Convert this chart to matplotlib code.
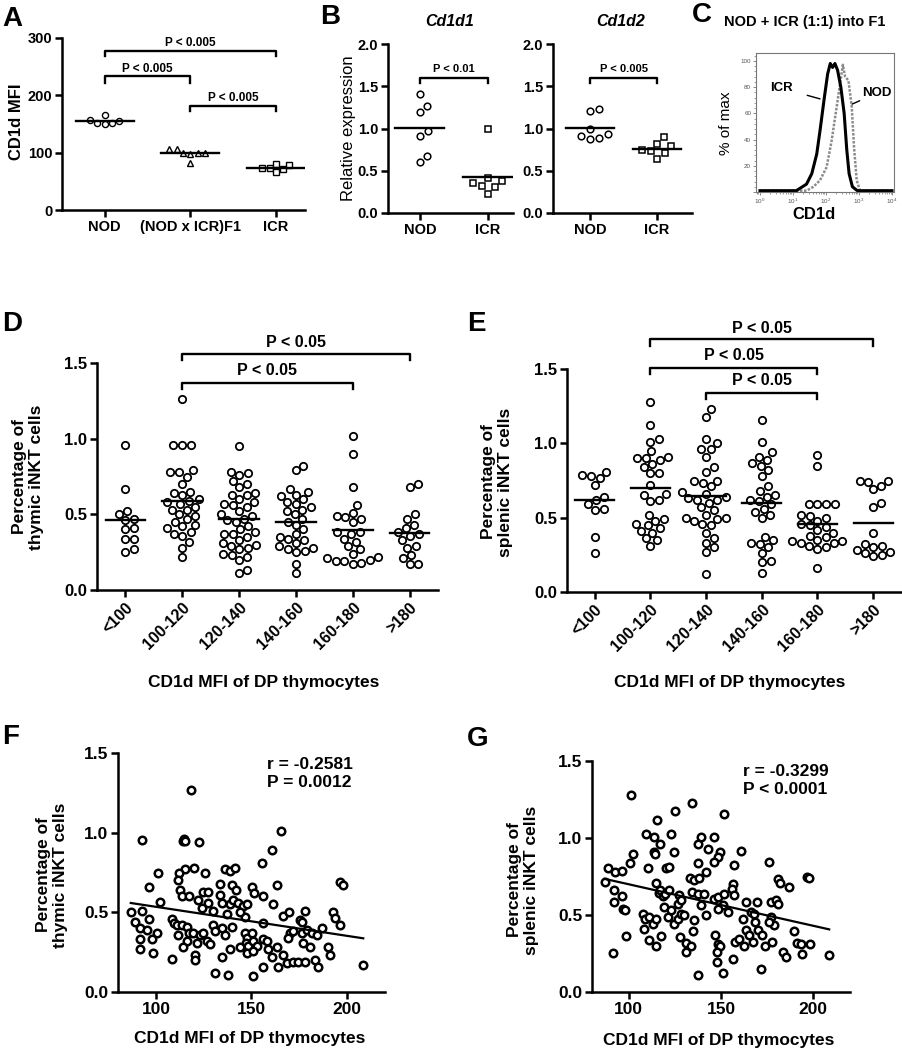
import matplotlib.pyplot as plt
from matplotlib.ticker import LogLocator, AutoMinorLocator, FormatStrFormatter, NullFormatter
import numpy as np

plt.rcParams['font.family'] = ['Liberation Sans', 'DejaVu Sans']
plt.rcParams['font.weight'] = 'bold'
plt.rcParams['mathtext.default'] = 'regular'

W, H = 903, 1050

# ---------------- data ----------------
# A: CD1d MFI
a_labels = ['NOD', '(NOD x ICR)F1', 'ICR']
a_nod = [151, 157, 150, 165, 155, 152]
a_f1 = [106, 99, 100, 82, 99, 98, 107]
a_icr = [73, 66, 78, 80, 74, 72]

# B: relative expression
b_labels = ['NOD', 'ICR']
b1_nod = [1.41, 1.27, 1.19, 0.97, 0.91, 0.67, 0.60]
b1_icr = [0.99, 0.41, 0.38, 0.36, 0.32, 0.31, 0.23]
b2_nod = [1.21, 1.23, 1.00, 0.91, 0.88, 0.89, 0.93]
b2_icr = [0.90, 0.82, 0.79, 0.75, 0.73, 0.71, 0.64]

# C: histograms (log10 CD1d, % of max)
icr_log = [0.0, 1.1, 1.41, 1.57, 1.72, 1.82, 1.95, 2.05, 2.13, 2.2, 2.27, 2.35, 2.45, 2.55, 2.63, 2.7, 2.8, 2.95, 4.0]
icr_pct = [1, 1, 6, 14, 29, 47, 72, 90, 98, 95, 98, 93, 80, 60, 32, 14, 4, 1, 1]
nod_log = [0.0, 1.41, 1.62, 1.82, 2.02, 2.17, 2.33, 2.43, 2.51, 2.58, 2.68, 2.78, 2.85, 2.93, 3.03, 4.0]
nod_pct = [1, 1, 4, 9, 19, 39, 66, 83, 97, 88, 85, 65, 34, 9, 1, 1]

# D/E: grouped by CD1d MFI
mfi_bins = ['<100', '100-120', '120-140', '140-160', '160-180', '>180']
d_lt100 = [0.96, 0.67, 0.52, 0.50, 0.47, 0.46, 0.41, 0.40, 0.34, 0.34, 0.27, 0.25]
d_100_120 = [1.26, 0.96, 0.96, 0.96, 0.79, 0.78, 0.78, 0.75, 0.70, 0.65, 0.64, 0.63, 0.60, 0.59, 0.58, 0.57,
             0.55, 0.53, 0.53, 0.50, 0.49, 0.47, 0.45, 0.43, 0.42, 0.41, 0.38, 0.37, 0.36, 0.32, 0.28, 0.22]
d_120_140 = [0.95, 0.78, 0.77, 0.76, 0.72, 0.70, 0.68, 0.64, 0.63, 0.63, 0.60, 0.58, 0.57, 0.56, 0.55, 0.52,
             0.50, 0.49, 0.47, 0.46, 0.45, 0.42, 0.40, 0.38, 0.37, 0.37, 0.35, 0.33, 0.31, 0.30, 0.29, 0.28,
             0.27, 0.24, 0.23, 0.22, 0.20, 0.13, 0.11]
d_140_160 = [0.82, 0.79, 0.67, 0.65, 0.63, 0.62, 0.60, 0.58, 0.57, 0.55, 0.53, 0.52, 0.50, 0.47, 0.45, 0.43,
             0.40, 0.37, 0.35, 0.34, 0.33, 0.31, 0.29, 0.28, 0.27, 0.26, 0.25, 0.17, 0.11]
d_160_180 = [1.02, 0.90, 0.68, 0.56, 0.51, 0.49, 0.48, 0.47, 0.45, 0.38, 0.38, 0.37, 0.34, 0.32, 0.29, 0.27,
             0.24, 0.22, 0.21, 0.20, 0.19, 0.19, 0.18, 0.17]
d_gt180 = [0.70, 0.68, 0.50, 0.47, 0.43, 0.41, 0.38, 0.37, 0.36, 0.33, 0.29, 0.28, 0.23, 0.21, 0.17, 0.17]

e_lt100 = [0.81, 0.79, 0.78, 0.77, 0.72, 0.64, 0.62, 0.59, 0.56, 0.55, 0.37, 0.26]
e_100_120 = [1.28, 1.12, 1.03, 1.01, 0.95, 0.91, 0.90, 0.90, 0.89, 0.86, 0.84, 0.80, 0.80, 0.72, 0.66, 0.65,
             0.62, 0.61, 0.52, 0.49, 0.48, 0.46, 0.45, 0.43, 0.41, 0.40, 0.36, 0.35, 0.31]
e_120_140 = [1.23, 1.18, 1.03, 1.00, 0.96, 0.96, 0.91, 0.84, 0.81, 0.75, 0.75, 0.73, 0.71, 0.67, 0.66, 0.64,
             0.63, 0.62, 0.62, 0.60, 0.57, 0.55, 0.52, 0.50, 0.50, 0.49, 0.48, 0.46, 0.45, 0.40, 0.36, 0.33,
             0.30, 0.27, 0.12]
e_140_160 = [1.16, 1.01, 0.94, 0.91, 0.89, 0.87, 0.85, 0.82, 0.78, 0.71, 0.68, 0.65, 0.64, 0.62, 0.61, 0.59,
             0.56, 0.54, 0.52, 0.50, 0.37, 0.35, 0.33, 0.32, 0.30, 0.26, 0.21, 0.20, 0.13]
e_160_180 = [0.92, 0.85, 0.59, 0.59, 0.59, 0.59, 0.52, 0.51, 0.50, 0.48, 0.46, 0.45, 0.44, 0.42, 0.40, 0.38,
             0.37, 0.35, 0.34, 0.34, 0.33, 0.33, 0.31, 0.30, 0.29, 0.16]
e_gt180 = [0.75, 0.75, 0.74, 0.71, 0.69, 0.60, 0.57, 0.40, 0.32, 0.31, 0.30, 0.28, 0.27, 0.26, 0.25, 0.24]

# F: thymic iNKT vs CD1d MFI
f_mfi = [118.2, 92.5, 114.0, 114.8, 115.3, 122.7, 165.3, 160.6, 155.7, 101.2,
         96.0, 120.0, 115.0, 111.9, 125.5, 136.0, 138.7, 141.4, 133.5, 139.6,
         141.9, 163.2, 150.4, 151.3, 156.2, 161.4, 196.3, 198.0, 111.7, 112.6,
         113.4, 117.0, 122.2, 124.8, 127.4, 127.4, 123.9, 130.0, 133.5, 134.4,
         138.7, 140.5, 143.1, 145.7, 147.5, 146.6, 137.0, 144.0, 102.0, 86.7,
         92.5, 96.3, 89.0, 91.6, 95.1, 100.3, 97.7, 91.6, 91.3, 98.3,
         108.2, 109.4, 110.8, 113.4, 116.0, 111.7, 117.0, 119.5, 123.0, 124.8,
         116.0, 121.3, 126.5, 128.3, 114.3, 120.4, 120.4, 108.2, 130.0, 130.9,
         134.4, 136.1, 139.6, 134.4, 138.7, 130.9, 137.5, 150.9, 146.6, 147.8,
         147.1, 148.3, 147.5, 150.1, 151.0, 152.7, 144.0, 151.0, 156.2, 156.2,
         158.0, 158.8, 160.6, 156.2, 163.2, 164.1, 166.7, 168.5, 171.9, 174.5,
         178.0, 166.7, 169.8, 170.1, 171.9, 169.3, 175.4, 178.0, 176.3, 176.3,
         178.9, 181.5, 184.1, 177.2, 180.7, 183.3, 185.0, 186.8, 190.3, 191.2,
         192.5, 193.7, 196.3, 208.6]
f_pct = [1.266, 0.956, 0.95, 0.96, 0.95, 0.94, 1.01, 0.89, 0.81, 0.75,
         0.66, 0.78, 0.77, 0.75, 0.75, 0.77, 0.76, 0.78, 0.68, 0.67,
         0.64, 0.67, 0.66, 0.62, 0.60, 0.55, 0.69, 0.67, 0.70, 0.64,
         0.60, 0.60, 0.58, 0.63, 0.63, 0.56, 0.53, 0.51, 0.61, 0.56,
         0.55, 0.58, 0.56, 0.54, 0.55, 0.47, 0.49, 0.50, 0.565, 0.50,
         0.51, 0.46, 0.44, 0.40, 0.39, 0.37, 0.33, 0.33, 0.27, 0.245,
         0.46, 0.43, 0.42, 0.42, 0.41, 0.36, 0.37, 0.37, 0.36, 0.37,
         0.32, 0.31, 0.32, 0.30, 0.28, 0.23, 0.20, 0.21, 0.42, 0.38,
         0.40, 0.36, 0.41, 0.22, 0.27, 0.12, 0.105, 0.10, 0.37, 0.34,
         0.31, 0.29, 0.245, 0.37, 0.32, 0.29, 0.28, 0.255, 0.43, 0.33,
         0.32, 0.27, 0.22, 0.16, 0.28, 0.16, 0.235, 0.18, 0.19, 0.19,
         0.19, 0.475, 0.50, 0.37, 0.38, 0.34, 0.455, 0.51, 0.44, 0.37,
         0.39, 0.37, 0.36, 0.31, 0.28, 0.20, 0.16, 0.40, 0.28, 0.23,
         0.50, 0.465, 0.42, 0.17]

# G: splenic iNKT vs CD1d MFI
g_mfi = [101.3, 134.3, 125.3, 151.8, 115.2, 109.4, 113.9, 122.9, 117.1, 113.5,
         114.3, 102.2, 124.7, 139.2, 137.4, 142.8, 146.0, 149.6, 148.2, 146.4,
         160.8, 137.4, 156.9, 176.2, 100.4, 88.6, 92.6, 96.2, 110.3, 120.2,
         122.0, 86.8, 91.9, 96.4, 91.9, 96.9, 97.9, 98.6, 91.3, 114.8,
         116.1, 118.4, 116.9, 119.5, 122.0, 127.4, 126.5, 128.3, 133.4, 135.6,
         138.3, 141.9, 134.1, 137.4, 141.0, 139.2, 141.9, 135.6, 146.4, 148.2,
         151.8, 150.9, 153.6, 156.3, 155.8, 156.9, 148.2, 107.6, 108.5, 111.2,
         113.0, 114.8, 119.3, 121.1, 122.9, 124.7, 126.5, 128.3, 130.1, 108.1,
         111.2, 114.8, 117.5, 128.0, 131.0, 133.8, 131.0, 134.7, 146.8, 148.2,
         149.6, 147.8, 147.8, 137.7, 151.3, 156.3, 157.6, 160.0, 162.6, 163.5,
         161.7, 166.2, 168.0, 168.4, 163.6, 165.4, 167.6, 170.3, 172.1, 173.9,
         177.6, 169.5, 171.7, 177.1, 179.8, 181.0, 177.4, 178.9, 176.2, 180.7,
         182.1, 187.0, 183.4, 185.2, 189.7, 191.5, 193.3, 194.2, 198.4, 196.9,
         197.5, 208.7]
g_pct = [1.277, 1.227, 1.175, 1.158, 1.115, 1.028, 1.006, 1.028, 0.959, 0.909,
         0.894, 0.898, 0.909, 1.006, 0.959, 0.931, 1.006, 0.909, 0.877, 0.844,
         0.916, 0.838, 0.823, 0.844, 0.838, 0.805, 0.779, 0.786, 0.805, 0.805,
         0.812, 0.714, 0.660, 0.621, 0.584, 0.541, 0.535, 0.364, 0.255, 0.708,
         0.645, 0.621, 0.665, 0.638, 0.665, 0.628, 0.574, 0.595, 0.740, 0.729,
         0.740, 0.779, 0.649, 0.639, 0.639, 0.563, 0.498, 0.470, 0.606, 0.617,
         0.639, 0.563, 0.519, 0.703, 0.671, 0.628, 0.541, 0.509, 0.476, 0.487,
         0.444, 0.476, 0.552, 0.487, 0.530, 0.444, 0.476, 0.509, 0.498, 0.407,
         0.335, 0.297, 0.364, 0.357, 0.318, 0.297, 0.260, 0.396, 0.368, 0.314,
         0.297, 0.260, 0.195, 0.113, 0.123, 0.216, 0.325, 0.346, 0.297, 0.584,
         0.476, 0.519, 0.509, 0.455, 0.400, 0.368, 0.325, 0.400, 0.368, 0.297,
         0.325, 0.584, 0.152, 0.584, 0.595, 0.574, 0.487, 0.433, 0.455, 0.736,
         0.708, 0.682, 0.260, 0.227, 0.394, 0.318, 0.310, 0.249, 0.314, 0.747,
         0.742, 0.238]

fig = plt.figure(figsize=(W / 100, H / 100), dpi=100)


def box(l, t, r, b):
    return fig.add_axes([l / W, 1 - b / H, (r - l) / W, (b - t) / H])


def ftext(x, y, s, **kw):
    fig.text(x / W, 1 - y / H, s, **kw)


def prism(ax, fs):
    for s in ('top', 'right'):
        ax.spines[s].set_visible(False)
    for s in ('left', 'bottom'):
        ax.spines[s].set_linewidth(1.8)
    ax.tick_params(direction='out', width=1.8, length=5, labelsize=fs, pad=2)


def swarm(ax, vals, d):
    # beeswarm offsets (x data units) so circles of d px do not overlap
    bb = ax.get_position()
    x0, x1 = ax.get_xlim()
    y0, y1 = ax.get_ylim()
    sx = bb.width * W / (x1 - x0)
    sy = bb.height * H / (y1 - y0)
    vals = np.asarray(vals, float)
    ys = vals * sy
    offs = np.zeros(len(vals))
    done = []
    for i in np.argsort(vals):
        cands = [0.0]
        for j in done:
            dy = ys[i] - ys[j]
            if abs(dy) < d:
                dx = np.sqrt(d * d - dy * dy)
                cands += [offs[j] + dx, offs[j] - dx]
        cands.sort(key=abs)
        for c in cands:
            if all((c - offs[j]) ** 2 + (ys[i] - ys[j]) ** 2 >= d * d - 1e-6 for j in done):
                offs[i] = c
                break
        done.append(i)
    return offs / sx


def dots(ax, groups, markers, ms, mew, d, mean_w):
    for k, vals in enumerate(groups):
        off = swarm(ax, vals, d)
        ax.plot(k + off, vals, markers[k], ls='none', mfc='white', mec='black',
                ms=ms, mew=mew, clip_on=False, zorder=3)
        m = np.mean(vals)
        ax.plot([k - mean_w / 2, k + mean_w / 2], [m, m], color='black', lw=1.7, zorder=4)


def bracket(ax, i, j, y, drop, text, ty, fs):
    ax.plot([i, i, j, j], [y - drop, y, y, y - drop], color='black', lw=1.7, clip_on=False)
    ax.text((i + j) / 2, ty, text, ha='center', va='center', fontsize=fs, fontweight='bold', clip_on=False)


# ---------------- A ----------------
axA = box(62, 38, 305, 210)
axA.set_xlim(-0.5, 2.34)
axA.set_ylim(0, 300)
prism(axA, 10.5)
axA.set_yticks([0, 100, 200, 300])
axA.set_xticks([0, 1, 2])
axA.set_xticklabels(a_labels)
dots(axA, [a_nod, a_f1, a_icr], ['o', '^', 's'], 4.4, 1.0, 7.5, 0.68)
bracket(axA, 0, 2, 277, 9, 'P < 0.005', 292, 8.5)
bracket(axA, 0, 1, 233, 11, 'P < 0.005', 246, 8.5)
bracket(axA, 1, 2, 182, 10, 'P < 0.005', 196, 8.5)
ftext(17, 122, 'CD1d MFI', rotation=90, ha='center', va='center', fontsize=12)

# ---------------- B ----------------
axB1 = box(388, 44, 513, 213)
axB1.set_xlim(-0.47, 1.37)
axB2 = box(553, 44, 692, 213)
axB2.set_xlim(-0.55, 1.52)
for ax, grp, title, ptxt in [(axB1, [b1_nod, b1_icr], 'Cd1d1', 'P < 0.01'),
                             (axB2, [b2_nod, b2_icr], 'Cd1d2', 'P < 0.005')]:
    ax.set_ylim(0, 2)
    prism(ax, 10.5)
    ax.set_yticks([0, 0.5, 1.0, 1.5, 2.0])
    ax.yaxis.set_major_formatter(FormatStrFormatter('%.1f'))
    ax.set_xticks([0, 1])
    ax.set_xticklabels(b_labels)
    dots(ax, grp, ['o', 's'], 4.8, 1.1, 9.5, 0.72)
    bracket(ax, 0, 1, 1.60, 0.06, ptxt, 1.71, 8)
ftext(450, 22, 'Cd1d1', ha='center', va='center', fontsize=11.5, style='italic')
ftext(621, 22, 'Cd1d2', ha='center', va='center', fontsize=11.5, style='italic')
ftext(349, 128, 'Relative expression', rotation=90, ha='center', va='center',
      fontsize=12, fontweight='normal')

# ---------------- C ----------------
axC = box(756, 53, 894, 192)
axC.semilogx(10 ** np.array(nod_log), nod_pct, color='#8a8a8a', lw=1.8, dashes=(1, 0.6))
axC.semilogx(10 ** np.array(icr_log), icr_pct, color='black', lw=2.2)
axC.set_xlim(10 ** -0.12, 10 ** 4.06)
axC.set_ylim(0, 106)
for s in axC.spines.values():
    s.set_color('#777777')
    s.set_linewidth(0.8)
axC.set_yticks([0, 20, 40, 60, 80, 100])
axC.set_yticklabels(['', '20', '40', '60', '80', '100'])
axC.yaxis.set_minor_locator(AutoMinorLocator(5))
axC.xaxis.set_major_locator(LogLocator(base=10, numticks=10))
axC.xaxis.set_minor_locator(LogLocator(base=10, subs=np.arange(2, 10), numticks=10))
axC.xaxis.set_minor_formatter(NullFormatter())
axC.tick_params(which='major', direction='out', length=2.5, width=0.6, colors='#777777',
                labelsize=4.5, labelcolor='#555555', pad=1)
axC.tick_params(which='minor', direction='out', length=1.5, width=0.5, colors='#777777')
for lab in axC.get_xticklabels() + axC.get_yticklabels():
    lab.set_fontweight('normal')
axC.annotate('ICR', xy=(10 ** 1.82, 71), xytext=(10 ** 0.64, 79.3), ha='center', va='center',
             fontsize=9.5, fontweight='bold',
             arrowprops=dict(arrowstyle='-', color='black', lw=1.0, shrinkA=9, shrinkB=0))
axC.annotate('NOD', xy=(10 ** 2.79, 67), xytext=(10 ** 3.55, 75.5), ha='center', va='center',
             fontsize=9.5, fontweight='bold',
             arrowprops=dict(arrowstyle='-', color='black', lw=1.0, shrinkA=9, shrinkB=0))
ftext(805, 22, 'NOD + ICR (1:1) into F1', ha='center', va='center', fontsize=10.5)
ftext(726, 123, '% of max', rotation=90, ha='center', va='center', fontsize=11, fontweight='normal')
ftext(814, 215, 'CD1d', ha='center', va='center', fontsize=12)

# ---------------- D / E ----------------
axD = box(97, 363, 438, 590)
axE = box(567, 369, 901, 592)
for ax, grp in [(axD, [d_lt100, d_100_120, d_120_140, d_140_160, d_160_180, d_gt180]),
                (axE, [e_lt100, e_100_120, e_120_140, e_140_160, e_160_180, e_gt180])]:
    ax.set_xlim(-0.5, 5.5)
    ax.set_ylim(0, 1.5)
    prism(ax, 12)
    ax.set_yticks([0, 0.5, 1.0, 1.5])
    ax.yaxis.set_major_formatter(FormatStrFormatter('%.1f'))
    ax.set_xticks(range(6))
    ax.set_xticklabels(mfi_bins, rotation=45, ha='right', rotation_mode='anchor', fontsize=11.5)
    dots(ax, grp, ['o'] * 6, 5.3, 1.3, 8.8, 0.7)

bracket(axD, 1, 4, 1.37, 0.04, 'P < 0.05', 1.45, 11.5)
bracket(axD, 1, 5, 1.557, 0.04, 'P < 0.05', 1.635, 11.5)
bracket(axE, 1, 5, 1.70, 0.045, 'P < 0.05', 1.775, 11.5)
bracket(axE, 1, 4, 1.51, 0.045, 'P < 0.05', 1.59, 11.5)
bracket(axE, 2, 4, 1.34, 0.045, 'P < 0.05', 1.42, 11.5)

ftext(28, 477, 'Percentage of\nthymic iNKT cells', rotation=90, ha='center', va='center',
      fontsize=12.5, linespacing=1.1)
ftext(497, 482, 'Percentage of\nsplenic iNKT cells', rotation=90, ha='center', va='center',
      fontsize=12.5, linespacing=1.1)
ftext(264, 683, 'CD1d MFI of DP thymocytes', ha='center', va='center', fontsize=12.5)
ftext(730, 683, 'CD1d MFI of DP thymocytes', ha='center', va='center', fontsize=12.5)

# ---------------- F / G ----------------
axF = box(118, 753, 385, 992)
axG = box(592, 761, 850, 992)
for ax, xs, ys, txt, tx in [(axF, f_mfi, f_pct, 'r = -0.2581\nP = 0.0012', 0.558),
                            (axG, g_mfi, g_pct, 'r = -0.3299\nP < 0.0001', 0.585)]:
    ax.set_xlim(80, 220)
    ax.set_ylim(0, 1.5)
    prism(ax, 12.5)
    ax.set_xticks([100, 150, 200])
    ax.set_yticks([0, 0.5, 1.0, 1.5])
    ax.yaxis.set_major_formatter(FormatStrFormatter('%.1f'))
    ax.plot(xs, ys, 'o', ls='none', mfc='white', mec='black', ms=5.4, mew=1.8, zorder=3)
    k, b = np.polyfit(xs, ys, 1)
    xl = np.array([min(xs), max(xs)])
    ax.plot(xl, k * xl + b, color='black', lw=1.6, zorder=4)
    ax.text(tx, 0.985, txt, transform=ax.transAxes, ha='left', va='top', fontsize=12.5,
            linespacing=1.25)

ftext(52, 875, 'Percentage of\nthymic iNKT cells', rotation=90, ha='center', va='center',
      fontsize=12.5, linespacing=1.1)
ftext(523, 880, 'Percentage of\nsplenic iNKT cells', rotation=90, ha='center', va='center',
      fontsize=12.5, linespacing=1.1)
ftext(250, 1038, 'CD1d MFI of DP thymocytes', ha='center', va='center', fontsize=12.5)
ftext(719, 1040, 'CD1d MFI of DP thymocytes', ha='center', va='center', fontsize=12.5)

# panel letters
for x, y, s in [(2, 6, 'A'), (320, 4, 'B'), (692, 2, 'C'), (2, 311, 'D'),
                (467, 311, 'E'), (2, 724, 'F'), (467, 726, 'G')]:
    ftext(x, y, s, ha='left', va='top', fontsize=20)

fig.savefig('out.png', dpi=100)
